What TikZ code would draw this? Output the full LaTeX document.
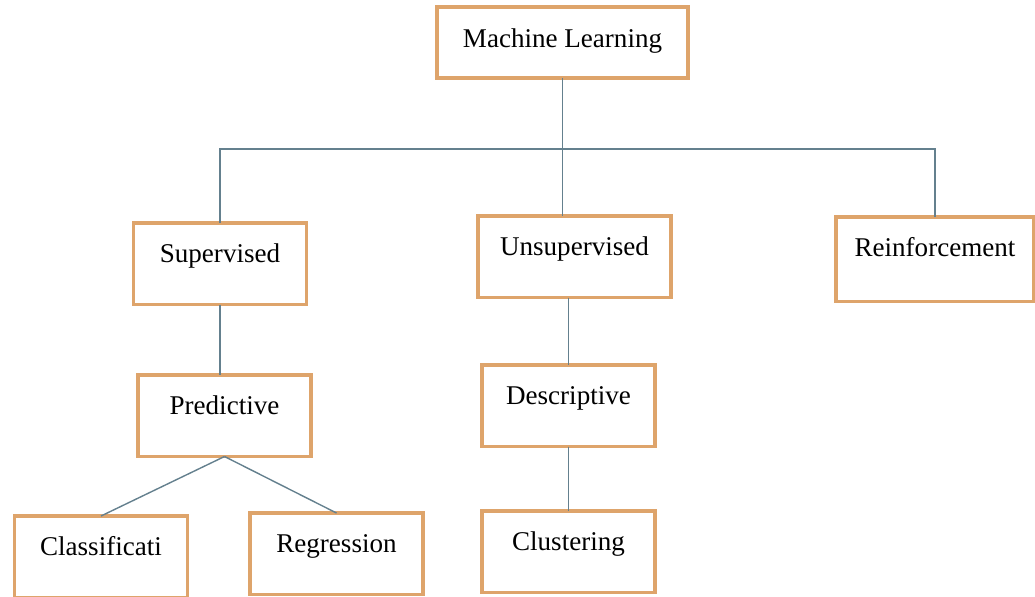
\documentclass[tikz,border=0pt]{standalone}
\usepackage{fontspec}
\setmainfont{Liberation Serif}
\usepackage{tikz}
\usepackage{xcolor}
\usetikzlibrary{positioning,calc}
\definecolor{theme}{RGB}{222, 164, 107}
\definecolor{wire}{RGB}{100, 128, 142}

\tikzset{
  box/.style={draw=theme, line width=2.2pt, fill=white, inner xsep=0pt, inner ysep=0pt,
    outer sep=0pt, minimum width=3.46cm, text height=0.79cm, text depth=0.84cm,
    anchor=north, font=\fontsize{15.4}{18}\selectfont},
  link/.style={draw=wire, line width=0.8pt}
}

\begin{document}
\begin{tikzpicture}
        \useasboundingbox (0,0) rectangle (20.7,-11.92);

        \node[box, minimum width=5.02cm, text height=0.80cm, text depth=0.62cm] (ml) at (11.25,-0.14) {Machine Learning};

        \node[box] (sup) at (4.40,-4.46) {Supervised};
        \node[box, minimum width=3.86cm] (unsup) at (11.49,-4.32) {Unsupervised};
        \node[box, minimum width=3.96cm, text depth=0.9cm] (reinf) at (18.70,-4.34) {Reinforcement};

        \node[box] (pred) at (4.49,-7.50) {Predictive};
        \node[box] (desc) at (11.37,-7.30) {Descriptive};

        \node[box] (clas) at (2.02,-10.32) {Classificati};
        \node[box] (regr) at (6.73,-10.26) {Regression};
        \node[box] (clus) at (11.37,-10.22) {Clustering};

        \coordinate (bus) at (11.25,-2.98);

        \draw[link] (ml.south) -- (ml.south |- unsup.north);
        \draw[link] (sup.north) |- (bus) -| (reinf.north);

        \draw[link] (sup.south) -- (sup.south |- pred.north);
        \draw[link] (pred.south) -- (clas.north);
        \draw[link] (pred.south) -- (regr.north);

        \draw[link] (desc.north |- unsup.south) -- (desc.north);
        \draw[link] (desc.south) -- (clus.north);
\end{tikzpicture}
\end{document}
